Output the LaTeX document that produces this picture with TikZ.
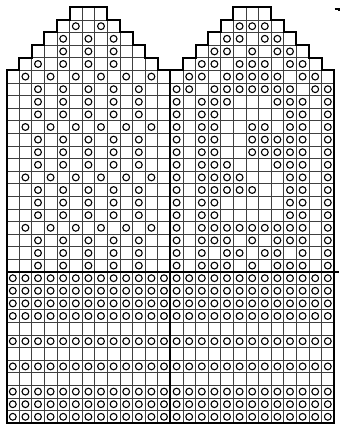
\documentclass[tikz,border=0pt]{standalone}
\tikzset{
  gridline/.style={draw=black!75, line width=0.6pt},
  outline/.style={draw=black, line width=2pt, line join=miter},
  stitch/.style={draw=black, line width=1.1pt},
  tickmark/.style={draw=black, line width=1.2pt}
}
\begin{document}
\begin{tikzpicture}[x=1pt,y=-1pt]
\useasboundingbox (0,0) rectangle (340,428);
\fill[white] (0,0) rectangle (340,428);
\begin{scope}[shift={(6.5,7.3)}, x=12.6pt, y=-12.6pt]
  % grid cells
  \foreach \m in {0,13}{
    \foreach \r in {0,...,32}{
      \pgfmathtruncatemacro\ca{\r<5 ? 5-\r : 0}
      \pgfmathtruncatemacro\cb{\r<5 ? 7+\r : 12}
      \foreach \c in {\ca,...,\cb}{
        \draw[gridline] (\m+\c,\r) rectangle +(1,1);
      }
    }
  }
  % left mitten pattern
  \foreach \r/\cols in {1/{5,7},2/{4,6,8},3/{4,6,8},4/{2,4,6,8},
     5/{1,3,5,7,9,11},6/{2,4,6,8,10},7/{2,4,6,8,10},8/{2,4,6,8,10},
     9/{1,3,5,7,9,11},10/{2,4,6,8,10},11/{2,4,6,8,10},12/{2,4,6,8,10},
     13/{1,3,5,7,9,11},14/{2,4,6,8,10},15/{2,4,6,8,10},16/{2,4,6,8,10},
     17/{1,3,5,7,9,11},18/{2,4,6,8,10},19/{2,4,6,8,10},20/{2,4,6,8,10}}{
    \foreach \c in \cols{
      \draw[stitch] (\c+0.5,\r+0.5) circle (3.4pt);
    }
  }
  % right mitten pattern
  \foreach \r/\cols in {1/{5,6,7},2/{4,5,7,8},3/{3,4,6,8,9},4/{2,3,5,6,7,9,10},
     5/{1,2,4,5,6,7,8,10,11},6/{0,1,3,4,5,6,7,8,9,11,12},
     7/{0,2,3,4,8,9,10,12},8/{0,2,3,9,10,12},9/{0,2,3,6,7,9,10,12},
     10/{0,2,3,6,7,8,9,10,12},11/{0,2,3,6,7,8,9,10,12},
     12/{0,2,3,4,8,9,10,12},13/{0,2,3,4,5,9,10,12},
     14/{0,2,3,4,5,6,9,10,12},15/{0,2,3,9,10,12},16/{0,2,3,9,10,12},
     17/{0,2,3,4,5,6,7,8,9,10,12},18/{0,2,3,4,6,8,9,10,12},
     19/{0,2,4,5,7,8,10,12},20/{0,2,3,4,6,8,9,10,12}}{
    \foreach \c in \cols{
      \draw[stitch] (13+\c+0.5,\r+0.5) circle (3.4pt);
    }
  }
  % cuff
  \foreach \r in {21,22,23,24,26,28,30,31,32}{
    \foreach \c in {0,...,25}{
      \draw[stitch] (\c+0.5,\r+0.5) circle (3.4pt);
    }
  }
  % outlines
  \foreach \m in {0,13}{
    \draw[outline] (\m+0,33) -- (\m+0,5) -- (\m+1,5) -- (\m+1,4) -- (\m+2,4)
      -- (\m+2,3) -- (\m+3,3) -- (\m+3,2) -- (\m+4,2) -- (\m+4,1) -- (\m+5,1)
      -- (\m+5,0) -- (\m+8,0) -- (\m+8,1) -- (\m+9,1) -- (\m+9,2) -- (\m+10,2)
      -- (\m+10,3) -- (\m+11,3) -- (\m+11,4) -- (\m+12,4) -- (\m+12,5)
      -- (\m+13,5) -- (\m+13,33) -- cycle;
  }
  \coordinate (divL) at (0,21);
  \coordinate (divR) at (26.4,21);
  \draw[outline] (divL) -- (divR);
\end{scope}
\coordinate (tA) at (334.5,9);
\coordinate (tB) at (339,9);
\coordinate (tC) at (339,10.8);
\draw[tickmark] (tA) -- (tB) -- (tC);
\end{tikzpicture}
\end{document}
